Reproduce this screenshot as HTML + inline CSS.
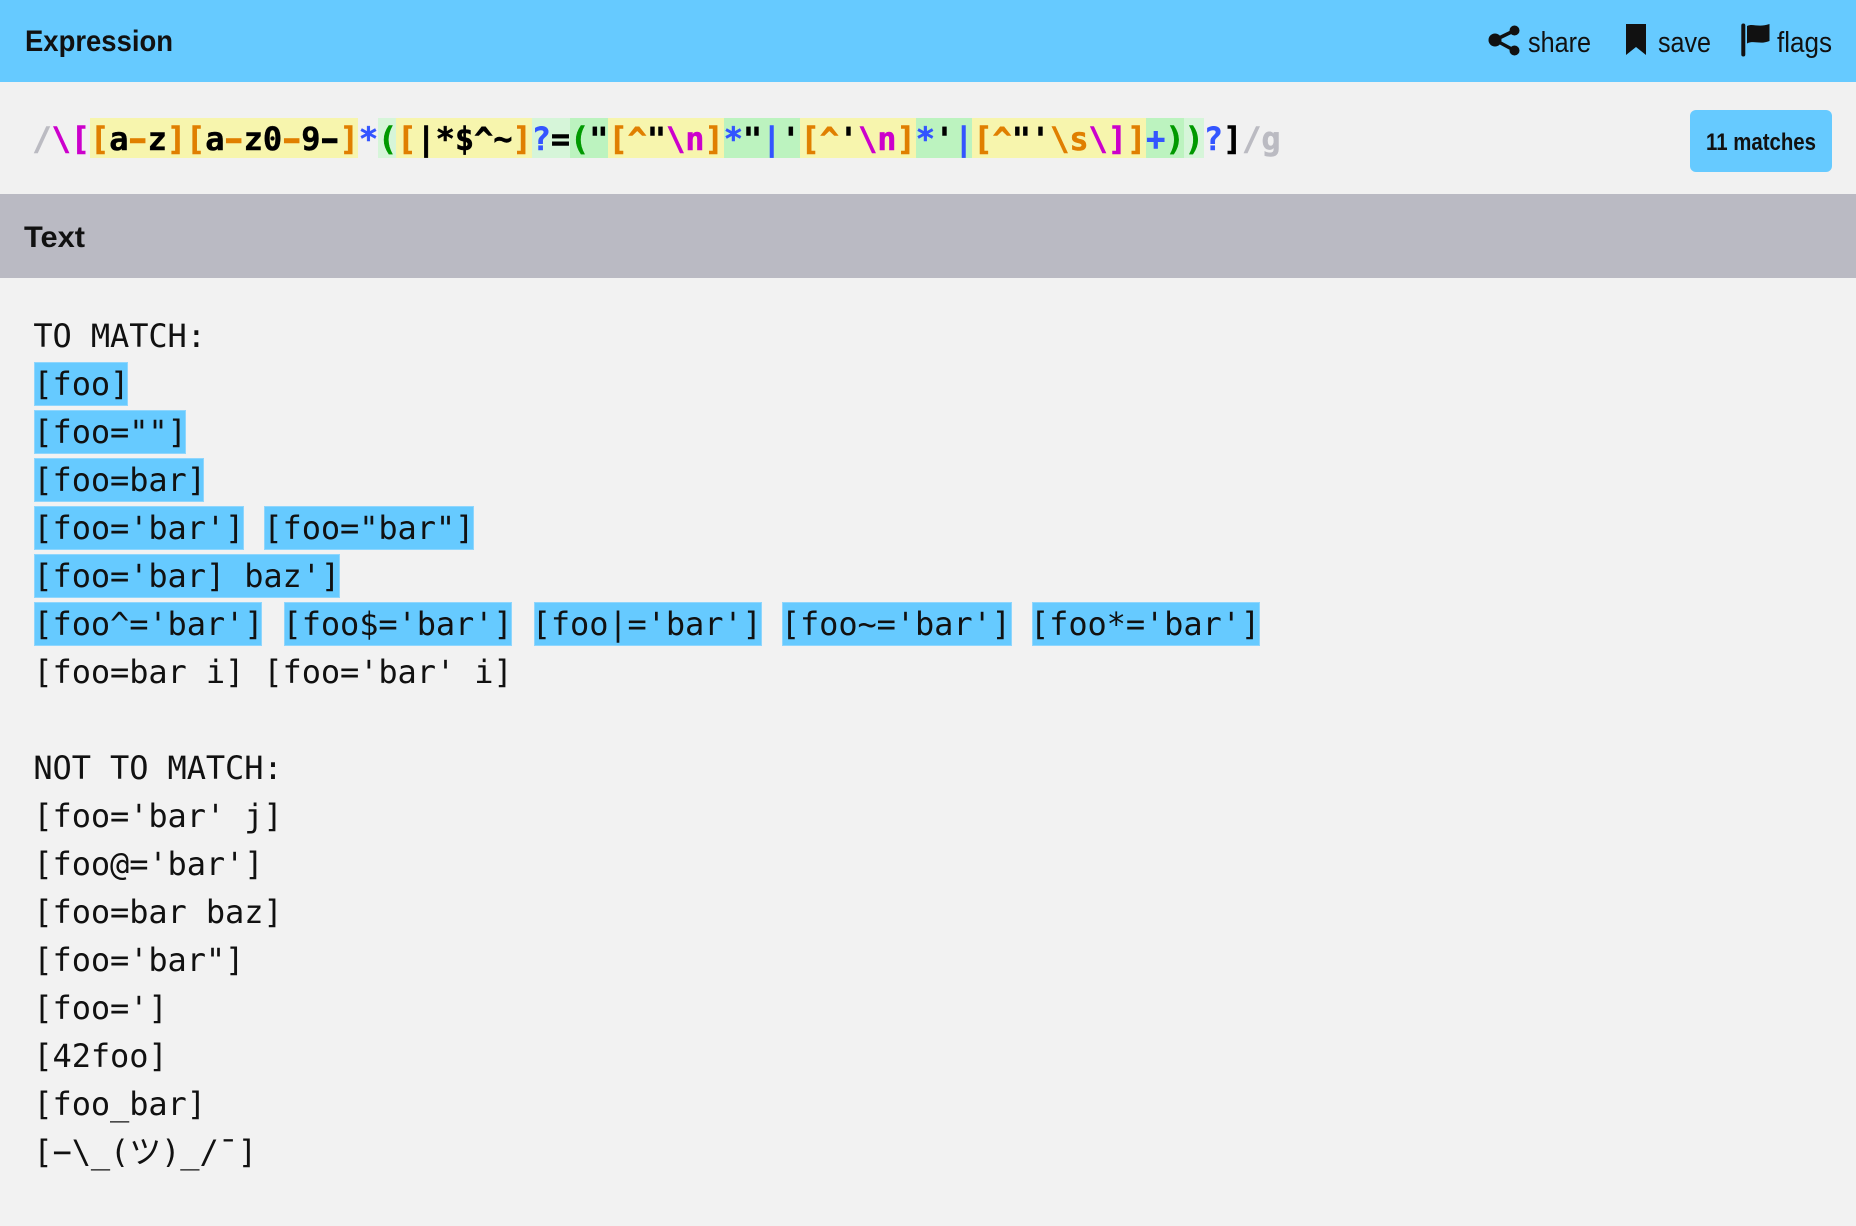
<!DOCTYPE html>
<html><head><meta charset="utf-8">
<style>
html,body{margin:0;padding:0;width:1856px;height:1226px;overflow:hidden;background:#f2f2f2}
#root{position:relative;width:1856px;height:1226px;overflow:hidden}
.b{position:absolute}
.m{position:absolute;left:33.4px;font:32px/48px "DejaVu Sans Mono","Noto Sans CJK JP",monospace;letter-spacing:-.1px;white-space:pre;color:#111}
.h{position:absolute;height:44px;background:#66CAFF;box-shadow:inset 0 0 0 1px #8fd6fd}
#re{position:absolute;left:32.4px;top:115px;font:bold 32px/48px "DejaVu Sans Mono",monospace;letter-spacing:-.066px;white-space:pre;color:#000;-webkit-text-stroke:.45px currentColor}
.d{display:inline-block;transform:scaleX(1.5)}
.o{color:#e07f00}.p{color:#cc00cc}.u{color:#3355ff}.g{color:#009900}.s{color:#bbbbc2}
svg{position:absolute;left:0;top:0}
</style></head><body><div id="root">
<div class="b" style="left:0;top:0;width:1856px;height:82px;background:#66CAFF"></div>
<div class="b" style="left:0;top:82px;width:1856px;height:112px;background:#f1f1f1"></div>
<div class="b" style="left:0;top:194px;width:1856px;height:84px;background:#babac3"></div>
<div class="b" style="left:1690px;top:110px;width:142px;height:62px;border-radius:6px;background:#66CAFF"></div>

<div class="b" style="left:90px;top:118px;width:268px;height:40px;background:#f7f5ad"></div>
<div class="b" style="left:378px;top:118px;width:18px;height:40px;background:#d6f5d9"></div>
<div class="b" style="left:396px;top:118px;width:136px;height:40px;background:#f7f5ad"></div>
<div class="b" style="left:532px;top:118px;width:38px;height:40px;background:#d6f5d9"></div>
<div class="b" style="left:570px;top:118px;width:38px;height:40px;background:#bcf3bf"></div>
<div class="b" style="left:608px;top:118px;width:116px;height:40px;background:#f7f5ad"></div>
<div class="b" style="left:724px;top:118px;width:76px;height:40px;background:#bcf3bf"></div>
<div class="b" style="left:800px;top:118px;width:116px;height:40px;background:#f7f5ad"></div>
<div class="b" style="left:916px;top:118px;width:56px;height:40px;background:#bcf3bf"></div>
<div class="b" style="left:972px;top:118px;width:174px;height:40px;background:#f7f5ad"></div>
<div class="b" style="left:1146px;top:118px;width:38px;height:40px;background:#bcf3bf"></div>
<div class="b" style="left:1184px;top:118px;width:20px;height:40px;background:#d6f5d9"></div>

<div id="re"><span class="s">/</span><span class="p">\[</span><span class="o">[</span>a<span class="o d">-</span>z<span class="o">]</span><span class="o">[</span>a<span class="o d">-</span>z0<span class="o d">-</span>9<span class="d">-</span><span class="o">]</span><span class="u">*</span><span class="g">(</span><span class="o">[</span>|*$^~<span class="o">]</span><span class="u">?</span>=<span class="g">(</span>"<span class="o">[^</span>"<span class="p">\n</span><span class="o">]</span><span class="u">*</span>"<span class="u">|</span>'<span class="o">[^</span>'<span class="p">\n</span><span class="o">]</span><span class="u">*</span>'<span class="u">|</span><span class="o">[^</span>"'<span class="o">\s</span><span class="p">\]</span><span class="o">]</span><span class="u">+</span><span class="g">))</span><span class="u">?</span>]<span class="s">/g</span></div>

<div class="h" style="left:34px;top:362px;width:94px"></div>
<div class="h" style="left:34px;top:410px;width:152px"></div>
<div class="h" style="left:34px;top:458px;width:170px"></div>
<div class="h" style="left:34px;top:506px;width:210px"></div>
<div class="h" style="left:264px;top:506px;width:210px"></div>
<div class="h" style="left:34px;top:554px;width:306px"></div>
<div class="h" style="left:34px;top:602px;width:228px"></div>
<div class="h" style="left:284px;top:602px;width:228px"></div>
<div class="h" style="left:534px;top:602px;width:228px"></div>
<div class="h" style="left:782px;top:602px;width:230px"></div>
<div class="h" style="left:1032px;top:602px;width:228px"></div>

<div class="m" style="top:312px">TO MATCH:</div>
<div class="m" style="top:360px">[foo]</div>
<div class="m" style="top:408px">[foo=""]</div>
<div class="m" style="top:456px">[foo=bar]</div>
<div class="m" style="top:504px">[foo='bar'] [foo="bar"]</div>
<div class="m" style="top:552px">[foo='bar] baz']</div>
<div class="m" style="top:600px">[foo^='bar'] [foo$='bar'] [foo|='bar'] [foo~='bar'] [foo*='bar']</div>
<div class="m" style="top:648px">[foo=bar i] [foo='bar' i]</div>
<div class="m" style="top:744px">NOT TO MATCH:</div>
<div class="m" style="top:792px">[foo='bar' j]</div>
<div class="m" style="top:840px">[foo@='bar']</div>
<div class="m" style="top:888px">[foo=bar baz]</div>
<div class="m" style="top:936px">[foo='bar"]</div>
<div class="m" style="top:984px">[foo=']</div>
<div class="m" style="top:1032px">[42foo]</div>
<div class="m" style="top:1080px">[foo_bar]</div>
<div class="m" style="top:1128px">[−\_(ツ)_/¯]</div>

<svg width="1856" height="1226" viewBox="0 0 1856 1226" font-family="'Liberation Sans',sans-serif" fill="#111">
<text x="25" y="51" font-size="30" font-weight="700" textLength="148" lengthAdjust="spacingAndGlyphs">Expression</text>
<text x="24" y="247" font-size="30" font-weight="700" textLength="61" lengthAdjust="spacingAndGlyphs">Text</text>
<text x="1528" y="52" font-size="29" textLength="63" lengthAdjust="spacingAndGlyphs">share</text>
<text x="1658" y="52" font-size="29" textLength="53" lengthAdjust="spacingAndGlyphs">save</text>
<text x="1777" y="52" font-size="29" textLength="55" lengthAdjust="spacingAndGlyphs">flags</text>
<text x="1706" y="150" font-size="24" font-weight="700" textLength="110" lengthAdjust="spacingAndGlyphs">11 matches</text>
<path d="M1514.5 30.5L1495 40L1514.5 50.5" fill="none" stroke="#111" stroke-width="3.5"/>
<circle cx="1495" cy="40" r="6.5"/><circle cx="1514.5" cy="30.5" r="5"/><circle cx="1514.5" cy="50.5" r="5"/>
<path d="M1626 24H1646V55L1636 47L1626 55Z"/>
<rect x="1741.3" y="23.5" width="4" height="33" rx="2"/>
<path d="M1747 26C1753 23 1758 28 1769.5 24V41C1760 45 1754 40 1747 43.5Z"/>
</svg>
</div></body></html>
